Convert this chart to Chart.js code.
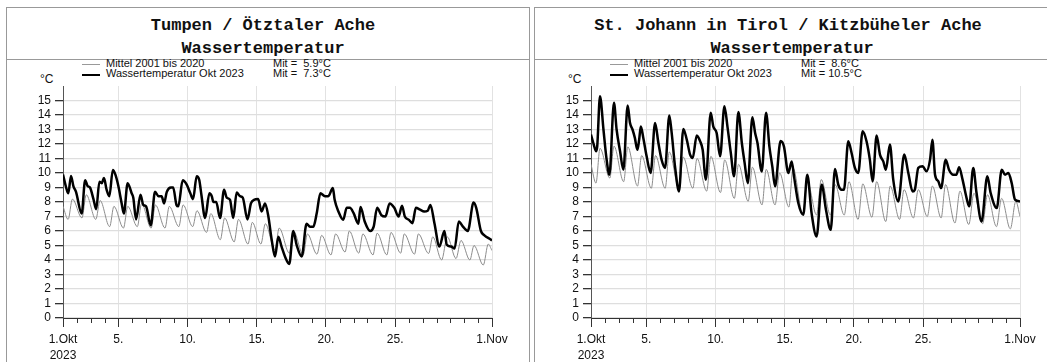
<!DOCTYPE html>
<html>
<head>
<meta charset="utf-8">
<script src="https://cdn.jsdelivr.net/npm/chart.js@4.4.0/dist/chart.umd.min.js"></script>
<style>
    body { margin: 0; width: 1047px; height: 362px; overflow: hidden; background: #fff; position: relative; font-family: "Liberation Sans", Arial, sans-serif; color: #111; }
    .frame { position: absolute; top: 7px; height: 420px; border: 1px solid #999; box-sizing: border-box; }
    .divider { position: absolute; top: 59px; height: 0; border-top: 1px solid #999; }
    .title { position: absolute; width: 700px; text-align: center; font: bold 17px "Liberation Mono", "Courier New", monospace; line-height: 19px; white-space: pre; }
    .leg { position: absolute; font-size: 11px; line-height: 11px; white-space: pre; }
    .swatch { position: absolute; width: 18px; }
    .unit { position: absolute; font-size: 12px; line-height: 12px; }
    .chart-box { position: absolute; top: 80px; width: 500px; height: 282px; }
</style>
</head>
<body>

<div class="frame" style="left:6px;width:524px"></div>
<div class="divider" style="left:6px;width:523px"></div>
<div class="frame" style="left:534px;width:600px"></div>
<div class="divider" style="left:534px;width:520px"></div>

<div class="title" style="left:-87px;top:16px">Tumpen / Ötztaler Ache</div>
<div class="title" style="left:-87px;top:39px">Wassertemperatur</div>
<div class="title" style="left:438px;top:16px">St. Johann in Tirol / Kitzbüheler Ache</div>
<div class="title" style="left:442px;top:39px">Wassertemperatur</div>

<div class="swatch" style="left:82px;top:64px;border-top:1px solid #999"></div>
<div class="swatch" style="left:82px;top:74px;border-top:2.5px solid #000"></div>
<div class="leg" style="left:106px;top:58px">Mittel 2001 bis 2020</div>
<div class="leg" style="left:106px;top:68px">Wassertemperatur Okt 2023</div>
<div class="leg" style="left:273px;top:58px">Mit =  5.9°C</div>
<div class="leg" style="left:273px;top:68px">Mit =  7.3°C</div>
<div class="unit" style="left:40px;top:73px">°C</div>

<div class="swatch" style="left:610px;top:64px;border-top:1px solid #999"></div>
<div class="swatch" style="left:610px;top:74px;border-top:2.5px solid #000"></div>
<div class="leg" style="left:634px;top:58px">Mittel 2001 bis 2020</div>
<div class="leg" style="left:634px;top:68px">Wassertemperatur Okt 2023</div>
<div class="leg" style="left:801px;top:58px">Mit =  8.6°C</div>
<div class="leg" style="left:801px;top:68px">Mit = 10.5°C</div>
<div class="unit" style="left:568px;top:73px">°C</div>

<div class="chart-box" style="left:13px"><canvas id="tumpenChart" width="500" height="282"></canvas></div>
<div class="chart-box" style="left:541px"><canvas id="johannChart" width="500" height="282"></canvas></div>

<script>
// axis ticks (x in days since 1 Oct 2023 00:00)
const xTickDays = [0, 4, 9, 14, 19, 24, 31];
const xTickLabels = [['1.Okt', '2023'], '5.', '10.', '15.', '20.', '25.', '1.Nov'];
const yTicks = [0, 1, 2, 3, 4, 5, 6, 7, 8, 9, 10, 11, 12, 13, 14, 15];

// Tumpen - mean 2001-2020
const tumpenMeanT = [0, 0.37, 0.68, 1.37, 1.68, 2.37, 2.68, 3.37, 3.68, 4.37, 4.68, 5.37, 5.68, 6.37, 6.68, 7.37, 7.68, 8.37, 8.68, 9.37, 9.68,
    10.37, 10.68, 11.37, 11.68, 12.37, 12.68, 13.37, 13.68, 14.3, 14.62, 15.32, 15.62, 16.36, 16.65, 17.36, 17.66, 18.35, 18.69, 19.36, 19.7,
    20.38, 20.69, 21.37, 21.67, 22.4, 22.7, 23.4, 23.7, 24.4, 24.66, 25.4, 25.68, 26.42, 26.72, 27.36, 27.77, 28.4, 28.76, 29.4, 29.7, 30.37, 30.73, 31];
const tumpenMeanV = [7.7, 6.8, 8.2, 6.9, 8.5, 6.8, 8.1, 6.3, 7.7, 6.2, 7.7, 6.3, 7.9, 6.2, 7.8, 6.2, 7.7, 6.3, 7.8, 6.3, 7.4,
    5.9, 7.2, 5.4, 6.9, 5.25, 6.8, 5.1, 6.6, 5.1, 6.5, 4.7, 6.2, 4.47, 6.0, 4.35, 5.8, 4.4, 5.7, 4.35, 5.8,
    4.55, 6.0, 4.47, 5.8, 4.35, 5.85, 4.35, 5.9, 4.47, 5.8, 4.4, 5.8, 4.45, 5.6, 4.0, 5.6, 4.1, 5.35, 4.0, 5.0, 3.65, 5.1, 4.65];

// Tumpen - Oct 2023
const tumpenT = [0, 0.27, 0.38, 0.58, 0.75, 0.94, 1.35, 1.6, 1.78, 1.95, 2.2, 2.4, 2.63, 2.8, 2.96, 3.15, 3.35, 3.6, 3.78, 4.0,
    4.24, 4.4, 4.67, 4.96, 5.08, 5.28, 5.6, 5.8, 6.0, 6.34, 6.65, 6.9, 7.13, 7.3, 7.5, 7.8, 7.96, 8.2, 8.33, 8.65,
    8.94, 9.2, 9.4, 9.66, 9.85, 10.0, 10.27, 10.58, 10.75, 10.87, 11.07, 11.35, 11.64, 11.83, 12.07, 12.3, 12.55, 12.79, 12.99, 13.33,
    13.58, 13.8, 14.1, 14.35, 14.6, 14.84, 15.08, 15.32, 15.56, 15.8, 16.04, 16.35, 16.64, 16.88, 17.25, 17.6, 17.85, 18.09, 18.33, 18.6,
    18.93, 19.17, 19.5, 19.63, 19.9, 20.25, 20.5, 20.73, 21.0, 21.34, 21.5, 21.8, 22.2, 22.45, 22.7, 23.0, 23.3, 23.6, 23.94, 24.25,
    24.5, 24.7, 25.0, 25.25, 25.5, 25.8, 26.1, 26.35, 26.55, 26.84, 27.2, 27.56, 27.73, 28.05, 28.3, 28.6, 28.9, 29.25, 29.67, 29.86,
    30.2, 30.45, 30.93, 31];
const tumpenV = [9.9, 8.85, 8.6, 9.8, 9.1, 8.7, 7.2, 9.5, 9.1, 9.0, 8.2, 7.5, 9.4, 9.3, 9.65, 8.85, 8.4, 10.2, 9.9, 9.1,
    7.9, 7.2, 9.3, 8.6, 8.3, 6.8, 8.5, 7.8, 7.7, 6.4, 8.7, 8.4, 8.4, 7.9, 8.7, 9.0, 9.0, 7.8, 7.7, 9.5,
    9.2, 8.6, 8.2, 9.77, 9.5, 8.5, 6.9, 8.6, 8.4, 8.0, 8.0, 6.9, 8.85, 8.3, 8.15, 6.9, 8.65, 8.4, 8.3, 6.8,
    7.9, 8.15, 8.2, 7.35, 7.9, 7.0, 5.4, 4.24, 5.6, 4.9, 4.24, 3.73, 6.0, 5.05, 4.24, 6.5, 6.3, 6.3, 7.2, 8.6,
    8.4, 8.4, 8.96, 8.15, 7.35, 6.77, 7.6, 7.6, 7.23, 6.5, 7.65, 6.66, 6.0, 6.3, 7.6, 7.1, 7.0, 7.9, 7.6, 7.0,
    7.74, 7.0, 6.77, 6.54, 7.6, 7.47, 7.35, 7.4, 7.8, 6.54, 4.93, 6.0, 5.05, 4.93, 4.8, 6.66, 6.3, 6.0, 7.97, 7.6,
    6.0, 5.7, 5.4, 5.35];

// St. Johann - mean 2001-2020
const johannMeanT = [0, 0.36, 0.65, 1.36, 1.66, 2.36, 2.66, 3.36, 3.66, 4.36, 4.66, 5.36, 5.66, 6.36, 6.66, 7.36, 7.66, 8.36, 8.66, 9.36, 9.66,
    10.36, 10.66, 11.36, 11.66, 12.36, 12.66, 13.3, 13.63, 14.3, 14.6, 15.3, 15.64, 16.3, 16.64, 17.3, 17.64, 18.3, 18.64, 19.3, 19.64,
    20.3, 20.64, 21.3, 21.62, 22.3, 22.62, 23.3, 23.65, 24.3, 24.67, 25.3, 25.62, 26.3, 26.66, 27.3, 27.67, 28.3, 28.65, 29.3, 29.67, 30.3, 30.7, 31];
const johannMeanV = [10.6, 9.3, 11.7, 9.65, 11.85, 9.4, 11.8, 9.1, 11.2, 8.95, 11.2, 8.95, 11.45, 8.9, 11.1, 8.95, 11.0, 8.75, 11.15, 8.65, 10.9,
    8.25, 10.6, 8.05, 10.4, 7.8, 10.25, 7.8, 10.0, 7.65, 10.35, 7.2, 9.4, 7.1, 9.55, 7.1, 9.2, 7.1, 9.4, 6.8, 9.25,
    6.95, 9.4, 6.65, 9.1, 6.8, 8.85, 6.9, 8.85, 7.0, 9.1, 6.9, 9.2, 6.55, 8.75, 6.45, 8.6, 6.5, 8.5, 6.3, 8.25, 6.15, 8.05, 7.0];

// St. Johann - Oct 2023
const johannT = [0, 0.2, 0.36, 0.45, 0.65, 0.9, 1.1, 1.33, 1.66, 1.85, 2.1, 2.34, 2.65, 2.82, 3.0, 3.17, 3.35, 3.48, 3.6, 3.78,
    4.02, 4.31, 4.63, 4.87, 5.1, 5.35, 5.66, 5.83, 6.07, 6.36, 6.67, 6.92, 7.16, 7.35, 7.64, 7.88, 8.07, 8.3, 8.65, 8.84,
    9.08, 9.33, 9.64, 9.86, 10.1, 10.34, 10.65, 10.9, 11.1, 11.33, 11.66, 11.86, 12.03, 12.34, 12.65, 12.89, 13.1, 13.3, 13.7, 13.94,
    14.26, 14.5, 14.67, 14.98, 15.34, 15.63, 15.94, 16.3, 16.67, 16.98, 17.32, 17.63, 17.87, 18.11, 18.28, 18.59, 18.83, 19.07, 19.31, 19.63,
    19.91, 20.15, 20.35, 20.64, 20.88, 21.12, 21.31, 21.6, 21.84, 22.2, 22.64, 22.93, 23.24, 23.4, 23.65, 23.96, 24.25, 24.5, 24.67, 24.86,
    25.1, 25.3, 25.63, 25.87, 26.18, 26.4, 26.6, 26.85, 27.14, 27.33, 27.62, 27.86, 28.22, 28.64, 28.88, 29.32, 29.68, 29.92, 30.16, 30.4,
    30.64, 31];
const johannV = [12.65, 11.96, 11.5, 11.84, 15.3, 13.0, 11.15, 9.88, 14.84, 13.0, 11.5, 10.23, 14.65, 13.45, 13.0, 12.42, 11.6, 12.3, 13.2, 12.42,
    11.15, 10.0, 13.45, 12.07, 10.92, 10.35, 13.96, 12.76, 10.46, 8.73, 13.04, 12.3, 11.27, 11.04, 12.58, 12.2, 11.6, 9.54, 14.15, 13.2,
    12.76, 11.15, 14.6, 13.2, 11.4, 9.77, 14.2, 12.07, 10.7, 9.3, 13.85, 12.76, 12.07, 10.1, 14.15, 11.84, 10.46, 9.08, 12.2, 11.84,
    10.0, 10.8, 9.77, 7.93, 7.12, 9.88, 7.23, 5.62, 9.19, 7.47, 6.08, 10.28, 9.19, 8.85, 8.85, 12.19, 11.38, 10.35, 10.0, 12.88,
    12.19, 10.92, 9.42, 12.58, 11.27, 10.8, 10.23, 11.96, 9.54, 8.04, 11.27, 10.0, 8.73, 8.85, 10.35, 10.46, 10.12, 10.92, 12.3, 9.88,
    9.42, 8.96, 10.92, 10.23, 9.88, 9.88, 10.4, 9.54, 8.27, 7.7, 10.35, 8.62, 6.66, 9.77, 8.62, 7.58, 10.23, 9.88, 10.0, 9.3,
    8.16, 8.04];

// short daily ticks between the labelled ones
const minorTicks = {
    id: 'minorTicks',
    afterDraw(chart) {
        const xs = chart.scales.x;
        const ctx = chart.ctx;
        ctx.save();
        ctx.strokeStyle = '#333';
        ctx.lineWidth = 1;
        ctx.beginPath();
        for (let d = 0; d <= 31; d++) {
            if (xTickDays.includes(d)) continue;
            const px = Math.round(xs.getPixelForValue(d)) + 0.5;
            ctx.moveTo(px, xs.top);
            ctx.lineTo(px, xs.top + 5);
        }
        ctx.stroke();
        ctx.restore();
    }
};

function toPoints(ts, vs) {
    return ts.map((t, i) => ({ x: t, y: vs[i] }));
}

function makeChart(id, meanT, meanV, obsT, obsV) {
    const tickFont = { family: '"Liberation Sans", Arial, sans-serif', size: 12, lineHeight: 1.3 };
    new Chart(document.getElementById(id), {
        type: 'line',
        data: {
            datasets: [{
                label: 'Wassertemperatur Okt 2023',
                data: toPoints(obsT, obsV),
                borderColor: '#000',
                borderWidth: 2.5,
                pointRadius: 0,
                cubicInterpolationMode: 'monotone',
                order: 0
            }, {
                label: 'Mittel 2001 bis 2020',
                data: toPoints(meanT, meanV),
                borderColor: '#8c8c8c',
                borderWidth: 1,
                pointRadius: 0,
                cubicInterpolationMode: 'monotone',
                order: 1
            }]
        },
        options: {
            responsive: false,
            animation: false,
            devicePixelRatio: 1,
            layout: { padding: { top: 6, right: 21, left: 0, bottom: 0 } },
            plugins: { legend: { display: false }, tooltip: { enabled: false } },
            scales: {
                x: {
                    type: 'linear',
                    min: 0,
                    max: 31,
                    afterBuildTicks: s => { s.ticks = xTickDays.map(v => ({ value: v })); },
                    afterFit: s => { s.height = 44; s.paddingLeft = 0; s.paddingRight = 0; },
                    ticks: {
                        autoSkip: false,
                        maxRotation: 0,
                        padding: 5,
                        color: '#111',
                        font: tickFont,
                        callback: (v) => xTickLabels[xTickDays.indexOf(v)]
                    },
                    grid: {
                        color: c => (c.tick && c.tick.value === 0) ? 'rgba(0,0,0,0)' : '#e2e2e2',
                        tickColor: '#333',
                        tickLength: 9
                    },
                    border: { display: true, color: '#333', width: 1 }
                },
                y: {
                    min: 0,
                    max: 16,
                    afterBuildTicks: s => { s.ticks = yTicks.map(v => ({ value: v })); },
                    afterFit: s => { s.width = 50; s.paddingTop = 0; s.paddingBottom = 0; },
                    ticks: {
                        autoSkip: false,
                        padding: 4,
                        color: '#111',
                        font: tickFont
                    },
                    grid: {
                        color: '#dedede',
                        lineWidth: 1.3,
                        tickColor: '#333',
                        tickLength: 8
                    },
                    border: { display: true, color: '#555', width: 1 }
                }
            }
        },
        plugins: [minorTicks]
    });
}

makeChart('tumpenChart', tumpenMeanT, tumpenMeanV, tumpenT, tumpenV);
makeChart('johannChart', johannMeanT, johannMeanV, johannT, johannV);
</script>
</body>
</html>
